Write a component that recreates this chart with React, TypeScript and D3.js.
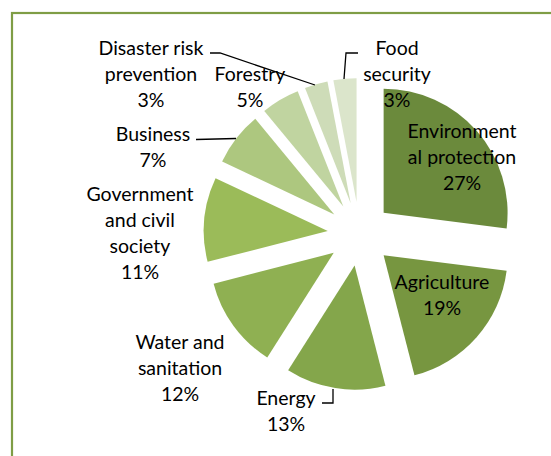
import React from "react";
import * as d3 from "d3";

const categories = [
  "Environmental protection",
  "Agriculture",
  "Energy",
  "Water and sanitation",
  "Government and civil society",
  "Business",
  "Forestry",
  "Disaster risk prevention",
  "Food security",
];
const values = [27, 19, 13, 12, 11, 7, 5, 3, 3];
const labelLines = [
  ["Environment", "al protection", "27%"],
  ["Agriculture", "19%"],
  ["Energy", "13%"],
  ["Water and", "sanitation", "12%"],
  ["Government", "and civil", "society", "11%"],
  ["Business", "7%"],
  ["Forestry", "5%"],
  ["Disaster risk", "prevention", "3%"],
  ["Food", "security", "3%"],
];
const colors = [
  "#6b8a3c",
  "#779640",
  "#84a64b",
  "#8fb052",
  "#9bbb59",
  "#adc77f",
  "#c0d4a0",
  "#cedcb8",
  "#dbe5cb",
];

// label anchor positions (center x, first-line center y)
const labelPos: [number, number][] = [
  [462, 130],
  [442, 281],
  [286, 397],
  [180, 341],
  [140, 193],
  [153, 133],
  [250, 73],
  [151, 47],
  [397, 47],
];

const W = 551;
const H = 456;
const cx = 359.6;
const cy = 234;
const R = 124;
const EXPLODE = 32;
const LH = 26.3;

export default function App() {
  const pie = d3
    .pie<number>()
    .sort(null)
    .value((d) => d)
    .startAngle(0)
    .endAngle(2 * Math.PI);
  const arcs = pie(values);
  const arc = d3.arc<d3.PieArcDatum<number>>().innerRadius(0).outerRadius(R);

  return (
    <svg
      width={W}
      height={H}
      style={{ position: "absolute", left: 0, top: 0 }}
      fontFamily="Lato, 'Open Sans', sans-serif"
    >
      <rect x={0} y={0} width={W} height={H} fill="#ffffff" />
      <rect
        x={12}
        y={13}
        width={W + 20}
        height={H + 20}
        fill="none"
        stroke="#7f9d45"
        strokeWidth={2.2}
      />
      <g>
        {arcs.map((a, i) => {
          const mid = (a.startAngle + a.endAngle) / 2;
          const dx = Math.sin(mid) * EXPLODE;
          const dy = -Math.cos(mid) * EXPLODE;
          return (
            <path
              key={categories[i]}
              d={arc(a) || ""}
              transform={`translate(${cx + dx},${cy + dy})`}
              fill={colors[i]}
            />
          );
        })}
      </g>
      {/* leader lines */}
      <g fill="none" stroke="#000" strokeWidth={1.3}>
        <polyline points="210,53 220,53 315,85" />
        <polyline points="358,53 346,53 344,79" />
        <polyline points="196,139.5 236,138.5" />
        <polyline points="322,403 333,403 333,389" />
      </g>
      <g fontSize={19.5} fill="#000" textAnchor="middle">
        {labelLines.map((lines, i) => (
          <text key={categories[i]} x={labelPos[i][0]} y={labelPos[i][1]}>
            {lines.map((l, j) => (
              <tspan
                key={j}
                x={labelPos[i][0]}
                y={labelPos[i][1] + j * LH}
                dominantBaseline="central"
              >
                {l}
              </tspan>
            ))}
          </text>
        ))}
      </g>
    </svg>
  );
}
